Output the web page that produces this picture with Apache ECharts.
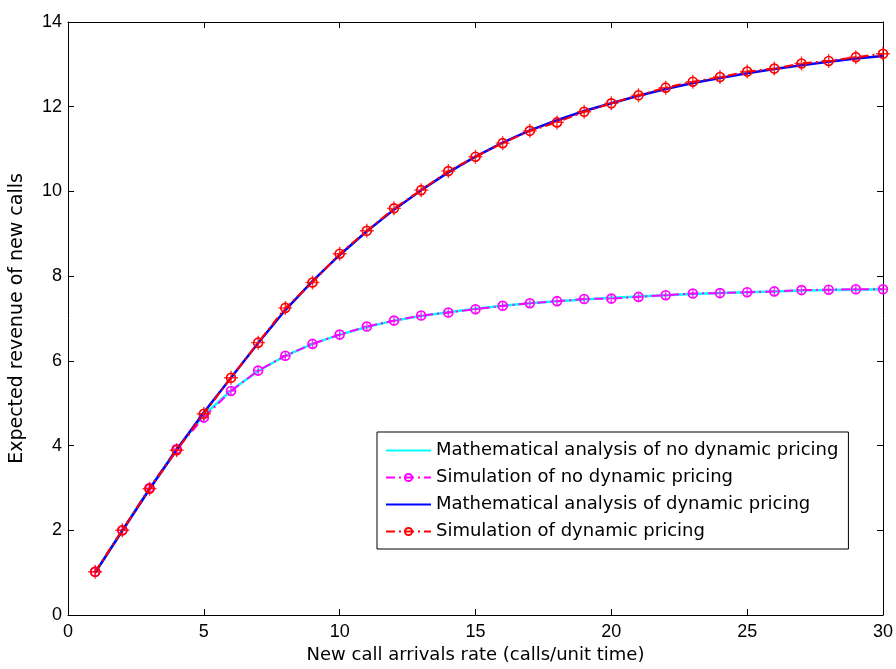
<!DOCTYPE html>
<html>
<head>
<meta charset="utf-8">
<script src="https://cdn.jsdelivr.net/npm/echarts@6/dist/echarts.min.js"></script>
<style>
  html, body { margin: 0; padding: 0; background: #fff; }
  #chart { width: 896px; height: 669px; }
</style>
</head>
<body>
<div id="chart"></div>
<script>
// Arrival rates (calls per unit time)
const arrivalRates = [1,2,3,4,5,6,7,8,9,10,11,12,13,14,15,16,17,18,19,20,21,22,23,24,25,26,27,28,29,30];

// Expected revenue without dynamic pricing
const analysisNoDynamic = [1.00,2.00,2.99,3.92,4.72,5.30,5.76,6.12,6.40,6.62,6.80,6.95,7.06,7.15,7.23,7.30,7.36,7.41,7.45,7.49,7.52,7.55,7.58,7.60,7.62,7.64,7.66,7.67,7.68,7.69];
const simulationNoDynamic = [1.02,2.00,3.00,3.92,4.66,5.29,5.77,6.12,6.40,6.62,6.81,6.95,7.07,7.14,7.22,7.30,7.36,7.41,7.46,7.47,7.51,7.55,7.59,7.60,7.62,7.64,7.67,7.68,7.69,7.69];

// Expected revenue with dynamic pricing
const analysisDynamic = [1.00,1.99,2.97,3.90,4.78,5.60,6.42,7.20,7.88,8.50,9.06,9.57,10.03,10.45,10.82,11.15,11.44,11.68,11.90,12.08,12.26,12.42,12.56,12.68,12.79,12.89,12.98,13.06,13.14,13.20];
const simulationDynamic = [1.02,2.00,2.98,3.89,4.75,5.60,6.43,7.25,7.85,8.53,9.07,9.60,10.03,10.48,10.82,11.14,11.43,11.63,11.88,12.08,12.27,12.45,12.59,12.70,12.83,12.90,13.02,13.08,13.17,13.25];

const xTicks = { min: 0, max: 30, interval: 5 };
const yTicks = { min: 0, max: 14, interval: 2 };

const seriesNames = [
  'Mathematical analysis of no dynamic pricing',
  'Simulation of no dynamic pricing',
  'Mathematical analysis of dynamic pricing',
  'Simulation of dynamic pricing'
];

const pairs = (ys) => arrivalRates.map((x, i) => [x, ys[i]]);
const dashDot = [9, 4, 2, 4];
const plusPath = 'path://M0,5L10,5M5,0L5,10';
const TICK_FONT = 'Liberation Sans, Arial, sans-serif';
const TEXT_FONT = 'DejaVu Sans, Verdana, sans-serif';

const chart = echarts.init(document.getElementById('chart'), null, { renderer: 'canvas' });

const baseAxis = {
  axisLine: { show: true, onZero: false, lineStyle: { color: '#000', width: 1 } },
  axisTick: { show: true, inside: true, length: 6, lineStyle: { color: '#000' } },
  splitLine: { show: false }
};

// Solid analysis lines show only a line in the legend, no marker
const plainLegendItem = (name) => ({ name, itemStyle: { opacity: 0 } });

chart.setOption({
  animation: false,
  backgroundColor: '#fff',
  grid: { left: 68, right: 10, top: 22, bottom: 51 },
  legend: {
    data: [
      plainLegendItem(seriesNames[0]),
      seriesNames[1],
      plainLegendItem(seriesNames[2]),
      seriesNames[3]
    ],
    orient: 'vertical',
    left: 377,
    top: 432,
    itemWidth: 45,
    itemHeight: 9,
    itemGap: 6,
    padding: [8, 10, 7, 8],
    backgroundColor: '#fff',
    borderColor: '#000',
    borderWidth: 1,
    borderRadius: 0,
    textStyle: { fontFamily: TEXT_FONT, fontSize: 18, lineHeight: 21, color: '#000' }
  },
  xAxis: [
    Object.assign({}, baseAxis, {
      type: 'value', position: 'bottom', ...xTicks,
      name: 'New call arrivals rate (calls/unit time)',
      nameLocation: 'middle', nameGap: 31,
      nameTextStyle: { fontFamily: TEXT_FONT, fontSize: 18, color: '#000' },
      axisLabel: { fontFamily: TICK_FONT, fontSize: 18, color: '#000', margin: 8 }
    }),
    Object.assign({}, baseAxis, {
      type: 'value', position: 'top', ...xTicks,
      axisLabel: { show: false }
    })
  ],
  yAxis: [
    Object.assign({}, baseAxis, {
      type: 'value', position: 'left', ...yTicks,
      name: 'Expected revenue of new calls',
      nameLocation: 'middle', nameGap: 41, nameRotate: 90,
      nameTextStyle: { fontFamily: TEXT_FONT, fontSize: 19, color: '#000' },
      axisLabel: { fontFamily: TICK_FONT, fontSize: 18, color: '#000', margin: 6 }
    }),
    Object.assign({}, baseAxis, {
      type: 'value', position: 'right', ...yTicks,
      axisLabel: { show: false }
    })
  ],
  series: [
    {
      name: seriesNames[0], type: 'line', data: pairs(analysisNoDynamic),
      showSymbol: false, symbol: 'none',
      lineStyle: { color: '#00ffff', width: 2.5 }, itemStyle: { color: '#00ffff' }, z: 2
    },
    {
      name: seriesNames[1], type: 'line', data: pairs(simulationNoDynamic),
      symbol: 'circle', symbolSize: 9, showSymbol: true,
      lineStyle: { color: '#ff00ff', width: 2, type: dashDot },
      itemStyle: { color: 'rgba(255,255,255,0)', borderColor: '#ff00ff', borderWidth: 1.6 }, z: 3
    },
    {
      name: 'plus-no-dynamic', type: 'scatter', data: pairs(simulationNoDynamic),
      symbol: plusPath, symbolSize: 9,
      itemStyle: { color: 'rgba(255,255,255,0)', borderColor: '#ff00ff', borderWidth: 1.4 }, z: 3
    },
    {
      name: seriesNames[2], type: 'line', data: pairs(analysisDynamic),
      showSymbol: false, symbol: 'none',
      lineStyle: { color: '#0000ff', width: 2.5 }, itemStyle: { color: '#0000ff' }, z: 4
    },
    {
      name: seriesNames[3], type: 'line', data: pairs(simulationDynamic),
      symbol: 'circle', symbolSize: 9, showSymbol: true,
      lineStyle: { color: '#ff0000', width: 2, type: dashDot },
      itemStyle: { color: 'rgba(255,255,255,0)', borderColor: '#ff0000', borderWidth: 1.6 }, z: 5
    },
    {
      name: 'plus-dynamic', type: 'scatter', data: pairs(simulationDynamic),
      symbol: plusPath, symbolSize: 14,
      itemStyle: { color: 'rgba(255,255,255,0)', borderColor: '#ff0000', borderWidth: 1.4 }, z: 5
    }
  ]
});
</script>
</body>
</html>
